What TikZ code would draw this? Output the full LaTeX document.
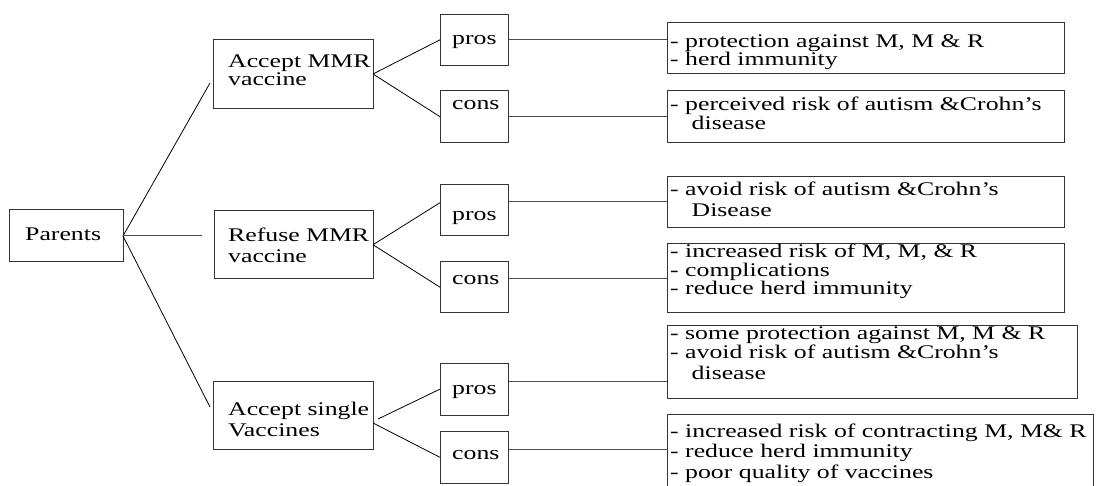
\documentclass[tikz,border=0pt]{standalone}
\usepackage{fontspec}
\newfontfamily\tf[FakeStretch=1.335]{Liberation Serif}
\usetikzlibrary{calc}
\begin{document}
\begin{tikzpicture}[x=1pt,y=-1pt,
  box/.style={draw=black!80,line width=1pt,rectangle,anchor=north west,inner sep=0pt,outer sep=0pt},
  conn/.style={draw=black,line width=0.8pt},
  hconn/.style={draw=black!70,line width=1pt},
  txt/.style={font=\tf\fontsize{19.3}{20}\selectfont,inner sep=0pt,anchor=base west,text=black}]
\useasboundingbox (0,0) rectangle (1098,486);
% boxes
\node[box,minimum width=114pt,minimum height=52pt] (par) at (9,210) {};
\node[box,minimum width=160pt,minimum height=69pt] (amr) at (213,39.5) {};
\node[box,minimum width=159pt,minimum height=68.5pt] (rmr) at (214,210.5) {};
\node[box,minimum width=160pt,minimum height=68pt] (asv) at (213,381) {};
\node[box,minimum width=68.5pt,minimum height=51pt] (p1) at (440,14.3) {};
\node[box,minimum width=68.5pt,minimum height=52pt] (c1) at (440,90.7) {};
\node[box,minimum width=68.5pt,minimum height=51.3pt] (p2) at (440,184.7) {};
\node[box,minimum width=68.5pt,minimum height=51pt] (c2) at (440,261.7) {};
\node[box,minimum width=68.5pt,minimum height=51.7pt] (p3) at (440,363.3) {};
\node[box,minimum width=68.5pt,minimum height=51.3pt] (c3) at (440,431.7) {};
\node[box,minimum width=397.5pt,minimum height=51.3pt] (r1) at (667,22.7) {};
\node[box,minimum width=397.5pt,minimum height=52pt] (r2) at (667,90.7) {};
\node[box,minimum width=397.5pt,minimum height=51pt] (r3) at (667,177) {};
\node[box,minimum width=397.5pt,minimum height=69pt] (r4) at (667,244) {};
\node[box,minimum width=410pt,minimum height=72pt] (r5) at (667,326) {};
\node[box,draw=none,minimum width=426pt,minimum height=80pt] (r6) at (667,414) {};
\draw[draw=black!80,line width=1pt] (r6.south west) -- (r6.north west) -- (r6.north east) -- (r6.south east);
% texts
\node[txt] (tpar) at (25,241) {Parents};
\node[txt] (tamr1) at (228,67.3) {Accept MMR};
\node[txt] (tamr2) at (228,85.5) {vaccine};
\node[txt] (trmr1) at (228,241.7) {Refuse MMR};
\node[txt] (trmr2) at (228,262.7) {vaccine};
\node[txt] (tasv1) at (228,415) {Accept single};
\node[txt] (tasv2) at (228,436) {Vaccines};
\node[txt] (tp1) at (452,45) {pros};
\node[txt] (tc1) at (452,110) {cons};
\node[txt] (tp2) at (452,220.5) {pros};
\node[txt] (tc2) at (452,285) {cons};
\node[txt] (tp3) at (452,395) {pros};
\node[txt] (tc3) at (452,459) {cons};
\node[txt] (tr1a) at (670,48) {- protection against M, M \& R};
\node[txt] (tr1b) at (670,66) {- herd immunity};
\node[txt] (tr2a) at (670,111) {- perceived risk of autism \&Crohn’s};
\node[txt] (tr2b) at (691.5,129.5) {disease};
\node[txt] (tr3a) at (670,196) {- avoid risk of autism \&Crohn’s};
\node[txt] (tr3b) at (691.5,217) {Disease};
\node[txt] (tr4a) at (670,258) {- increased risk of M, M, \& R};
\node[txt] (tr4b) at (670,276.5) {- complications};
\node[txt] (tr4c) at (670,295) {- reduce herd immunity};
\node[txt] (tr5a) at (670,340) {- some protection against M, M \& R};
\node[txt] (tr5b) at (670,359) {- avoid risk of autism \&Crohn’s};
\node[txt] (tr5c) at (691.5,379) {disease};
\node[txt] (tr6a) at (670,437) {- increased risk of contracting M, M\& R};
\node[txt] (tr6b) at (670,457.5) {- reduce herd immunity};
\node[txt] (tr6c) at (670,478) {- poor quality of vaccines};
% connectors
\coordinate (rmrin) at ($(rmr.west)+(-12,0)$);
\draw[conn] (par.east) -- ($(amr.west)+(-3,9)$);
\draw[hconn] (par.east) -- (par.east -| rmrin);
\draw[conn] (par.east) -- ($(asv.west)+(-3,-8)$);
\draw[conn] (amr.east) -- (p1.west);
\draw[conn] (amr.east) -- (c1.west);
\draw[conn] (rmr.east) -- ($(p2.north west)+(0,18)$);
\draw[conn] (rmr.east) -- (c2.west);
\draw[conn] ($(asv.east)+(5,4)$) -- (p3.west);
\draw[conn] ($(asv.east)+(0,8)$) -- (c3.west);
\coordinate (p2o) at ($(p2.north east)+(0,17)$);
\coordinate (c2o) at ($(c2.north east)+(0,16.6)$);
\coordinate (p3o) at ($(p3.north east)+(0,17.7)$);
\coordinate (c3o) at ($(c3.north east)+(0,17.3)$);
\draw[hconn] (p1.east) -- (p1.east -| r1.west);
\draw[hconn] (c1.east) -- (c1.east -| r2.west);
\draw[hconn] (p2o) -- (p2o -| r3.west);
\draw[hconn] (c2o) -- (c2o -| r4.west);
\draw[hconn] (p3o) -- (p3o -| r5.west);
\draw[hconn] (c3o) -- (c3o -| r6.west);
\end{tikzpicture}
\end{document}
